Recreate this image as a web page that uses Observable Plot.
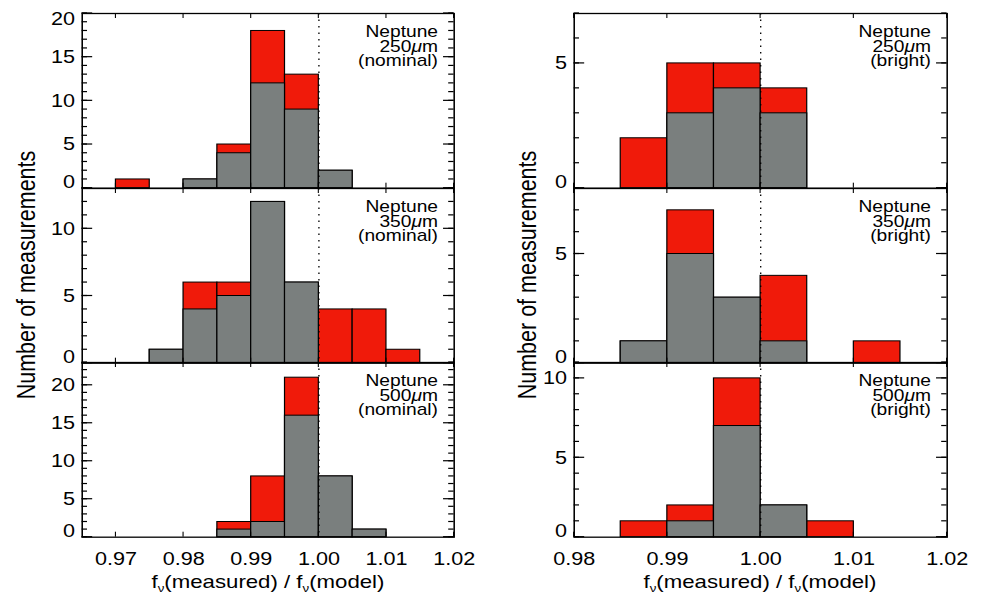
<!DOCTYPE html>
<html>
<head>
<meta charset="utf-8">
<script src="https://cdn.jsdelivr.net/npm/d3@7"></script>
<script src="https://cdn.jsdelivr.net/npm/@observablehq/plot@0.6"></script>
<style>
  body { margin: 0; background: #fff; }
  #page { position: relative; width: 984px; height: 595px; overflow: hidden; background: #fff; }
  /* the figure is laid out narrow and widened as a whole */
  #fig { position: absolute; left: 0; top: 0; width: 820px; height: 595px;
         transform: scaleX(1.2); transform-origin: 0 0;
         font-family: "Liberation Sans", Arial, Helvetica, sans-serif; color: #000; }
  .ytitle { position: absolute; white-space: nowrap; font-size: 21.5px; line-height: 1;
            transform: translate(-50%, -50%) rotate(-90deg); }
  .xtitle { position: absolute; white-space: nowrap; font-size: 18.5px; line-height: 1;
            transform: translateX(-50%); }
  .xtitle sub { font-size: 0.6em; vertical-align: -0.35em; line-height: 0; }
</style>
</head>
<body>
<div id="page"><div id="fig"></div></div>
<script>
// Histogram bins (lower edges), bin width 0.005
const binWidth = 0.005;
const nominalBins = [0.965, 0.970, 0.975, 0.980, 0.985, 0.990, 0.995, 1.000, 1.005, 1.010, 1.015];
const brightBins  = [0.980, 0.985, 0.990, 0.995, 1.000, 1.005, 1.010, 1.015];

// Counts: all measurements (red) and the grey subset
const total250nominal = [0, 1, 0, 1, 5, 18, 13, 2, 0, 0, 0];
const gray250nominal  = [0, 0, 0, 1, 4, 12,  9, 2, 0, 0, 0];
const total350nominal = [0, 0, 1, 6, 6, 12, 6, 4, 4, 1, 0];
const gray350nominal  = [0, 0, 1, 4, 5, 12, 6, 0, 0, 0, 0];
const total500nominal = [0, 0, 0, 0, 2, 8, 21, 8, 1, 0, 0];
const gray500nominal  = [0, 0, 0, 0, 1, 2, 16, 8, 1, 0, 0];

const total250bright = [0, 2, 5, 5, 4, 0, 0, 0];
const gray250bright  = [0, 0, 3, 4, 3, 0, 0, 0];
const total350bright = [0, 1, 7, 3, 4, 0, 1, 0];
const gray350bright  = [0, 1, 5, 3, 1, 0, 0, 0];
const total500bright = [0, 1, 2, 10, 2, 1, 0, 0];
const gray500bright  = [0, 0, 1, 7, 2, 0, 0, 0];

// Axis settings
const nominalDomain = [0.965, 1.02];
const brightDomain  = [0.98, 1.02];
const nominalXTicks = [0.97, 0.98, 0.99, 1.00, 1.01, 1.02];
const brightXTicks  = [0.98, 0.99, 1.00, 1.01, 1.02];
const yMax250nominal = 20, yMax350nominal = 13, yMax500nominal = 23;
const yMax250bright = 7, yMax350bright = 8, yMax500bright = 11;
const yTicks250nominal = [0, 5, 10, 15, 20];
const yTicks350nominal = [0, 5, 10];
const yTicks500nominal = [0, 5, 10, 15, 20];
const yTicks250bright = [0, 5];
const yTicks350bright = [0, 5];
const yTicks500bright = [0, 5, 10];

const labels = [
  "Neptune\n250μm\n(nominal)", "Neptune\n350μm\n(nominal)", "Neptune\n500μm\n(nominal)",
  "Neptune\n250μm\n(bright)",  "Neptune\n350μm\n(bright)",  "Neptune\n500μm\n(bright)"
];
const xTitle = "f<sub>ν</sub>(measured) / f<sub>ν</sub>(model)";
const yTitle = "Number of measurements";

const RED = "#f01a0a";
const GRAY = "#7a7f7e";
const FONT = "'Liberation Sans', Arial, Helvetica, sans-serif";

// Layout (figure coordinates before the horizontal widening)
const S = 1.2;
const columns = [
  {left: 82 / S, width: (454 - 82) / S, bins: nominalBins, domain: nominalDomain, xTicks: nominalXTicks, titleX: 268 / S, yTitleX: 27 / S},
  {left: 574 / S, width: (947 - 574) / S, bins: brightBins, domain: brightDomain, xTicks: brightXTicks, titleX: 760 / S, yTitleX: 528 / S}
];
const rowTop = [13, 187.7, 362.4];
const rowHeight = 174.7;
const majorLen = 8.8, minorLen = 4.5, xTickLen = 5;

const panels = [
  {col: 0, row: 0, total: total250nominal, gray: gray250nominal, yMax: yMax250nominal, yTicks: yTicks250nominal, label: labels[0]},
  {col: 0, row: 1, total: total350nominal, gray: gray350nominal, yMax: yMax350nominal, yTicks: yTicks350nominal, label: labels[1]},
  {col: 0, row: 2, total: total500nominal, gray: gray500nominal, yMax: yMax500nominal, yTicks: yTicks500nominal, label: labels[2]},
  {col: 1, row: 0, total: total250bright, gray: gray250bright, yMax: yMax250bright, yTicks: yTicks250bright, label: labels[3]},
  {col: 1, row: 1, total: total350bright, gray: gray350bright, yMax: yMax350bright, yTicks: yTicks350bright, label: labels[4]},
  {col: 1, row: 2, total: total500bright, gray: gray500bright, yMax: yMax500bright, yTicks: yTicks500bright, label: labels[5]}
];

const fig = document.getElementById("fig");

// Render "μ" in italics, as in 250μm
function italicizeMu(svg) {
  svg.querySelectorAll("tspan, text").forEach(node => {
    if (node.childElementCount === 0 && node.textContent.includes("μ")) {
      const parts = node.textContent.split("μ");
      node.textContent = "";
      parts.forEach((p, i) => {
        if (i > 0) {
          const t = document.createElementNS("http://www.w3.org/2000/svg", "tspan");
          t.setAttribute("font-style", "italic");
          t.textContent = "μ";
          node.appendChild(t);
        }
        if (p) node.appendChild(document.createTextNode(p));
      });
    }
  });
}

// Short inward tick marks along the frame edges, drawn as thin filled rects
function yTicksInside(values, len, w) {
  const o = {y1: d => d, y2: d => d, insetTop: -0.6, insetBottom: -0.6, fill: "black"};
  return [
    Plot.rect(values, {...o, insetRight: w - len}),
    Plot.rect(values, {...o, insetLeft: w - len})
  ];
}
function xTicksInside(values, len, h) {
  const o = {x1: d => d, x2: d => d, insetLeft: -0.45, insetRight: -0.45, fill: "black"};
  return [
    Plot.rect(values, {...o, insetBottom: h - len}),
    Plot.rect(values, {...o, insetTop: h - len})
  ];
}

function drawPanel(p) {
  const c = columns[p.col];
  const rows = c.bins.map((b, i) => ({x1: b, x2: b + binWidth, total: p.total[i], gray: p.gray[i]}));
  const minor = d3.range(0, p.yMax + 1);
  const isBottom = p.row === 2;
  const yLabelOpts = {anchor: "left", tickSize: 0, tickPadding: 6, fontSize: 18, label: null};
  const mid = p.yTicks.filter(v => v !== 0 && v !== p.yMax);

  const svg = Plot.plot({
    width: c.width,
    height: rowHeight,
    marginTop: 0, marginRight: 0, marginBottom: 0, marginLeft: 0,
    x: {domain: c.domain, label: null, axis: isBottom ? undefined : null},
    y: {domain: [0, p.yMax], label: null},
    style: `position:absolute;left:${c.left}px;top:${rowTop[p.row]}px;background:none;overflow:visible;max-width:none;font-family:${FONT};color:#000;`,
    marks: [
      Plot.rectY(rows.filter(d => d.total > 0), {x1: "x1", x2: "x2", y1: 0, y2: "total", fill: RED, stroke: "black", strokeWidth: 1}),
      Plot.rectY(rows.filter(d => d.gray > 0), {x1: "x1", x2: "x2", y1: 0, y2: "gray", fill: GRAY, stroke: "black", strokeWidth: 1}),
      Plot.ruleX([1.0], {stroke: "black", strokeWidth: 1.1, strokeDasharray: "1.5,5"}),
      ...yTicksInside(minor, minorLen, c.width),
      ...yTicksInside(p.yTicks, majorLen, c.width),
      ...xTicksInside(c.xTicks, xTickLen, rowHeight),
      Plot.frame({stroke: "black", strokeWidth: 1.3}),
      // y tick labels; the end labels are nudged inside the frame
      Plot.axisY(mid, yLabelOpts),
      Plot.axisY([0], {...yLabelOpts, dy: -6}),
      p.yTicks.includes(p.yMax) ? Plot.axisY([p.yMax], {...yLabelOpts, dy: 6}) : null,
      isBottom ? Plot.axisX(c.xTicks, {anchor: "bottom", tickSize: 0, tickPadding: 15, fontSize: 18, tickFormat: d3.format(".2f"), label: null}) : null,
      Plot.text([p.label], {text: d => d, frameAnchor: "top-right", textAnchor: "end", lineAnchor: "top",
                            lineHeight: 0.9, dx: -13.5, dy: 13.6, fontSize: 16, fill: "black"})
    ]
  });
  italicizeMu(svg);
  fig.appendChild(svg);
}

panels.forEach(drawPanel);

// axis titles
columns.forEach(c => {
  const xt = document.createElement("div");
  xt.className = "xtitle";
  xt.innerHTML = xTitle;
  xt.style.left = c.titleX + "px";
  xt.style.top = "573px";
  fig.appendChild(xt);

  const yt = document.createElement("div");
  yt.className = "ytitle";
  yt.textContent = yTitle;
  yt.style.left = c.yTitleX + "px";
  yt.style.top = "275px";
  fig.appendChild(yt);
});
</script>
</body>
</html>
